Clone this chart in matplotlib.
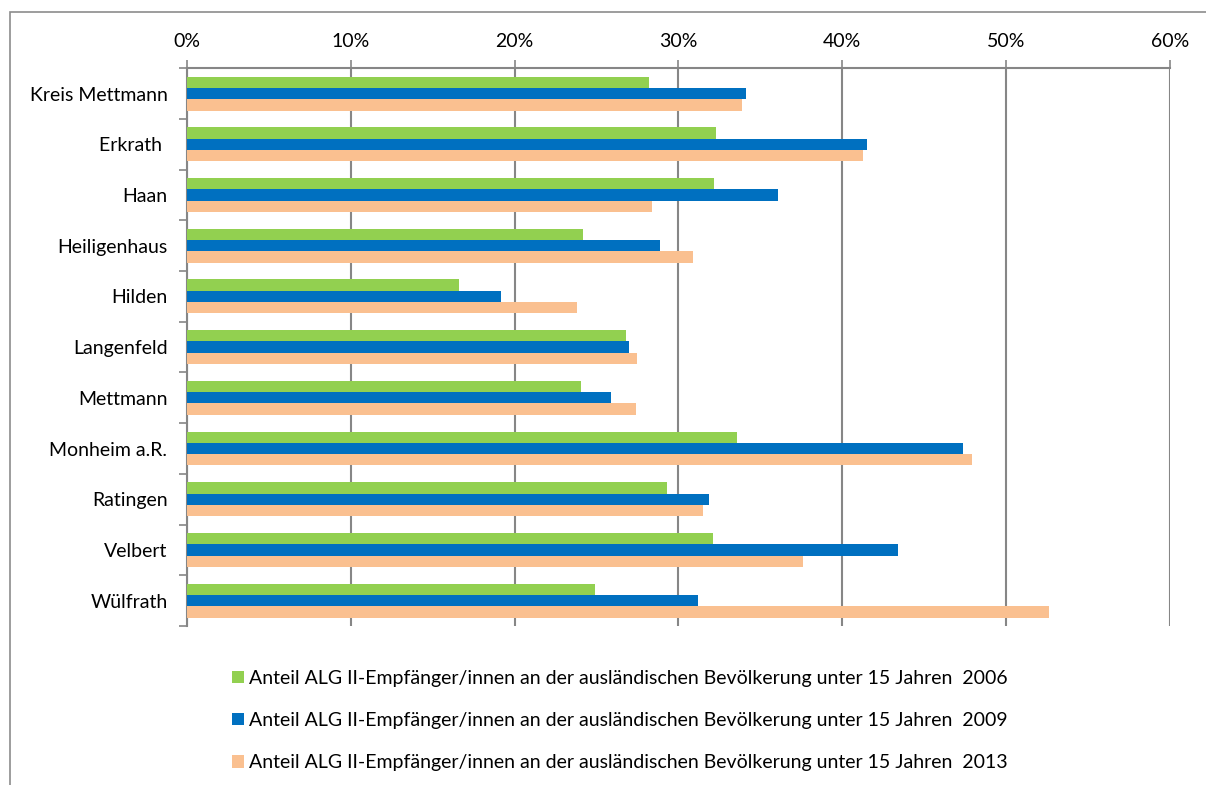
#!/usr/bin/env python

import numpy as np
import matplotlib.pyplot as plt
from matplotlib.patches import Rectangle
from matplotlib.ticker import FuncFormatter

plt.rcParams['font.family'] = ['Lato', 'DejaVu Sans']
plt.rcParams['font.size'] = 14

# data (percent)
towns = ['Kreis Mettmann', 'Erkrath ', 'Haan', 'Heiligenhaus', 'Hilden', 'Langenfeld',
         'Mettmann', 'Monheim a.R.', 'Ratingen', 'Velbert', 'Wülfrath']
share_2006 = [28.2, 32.3, 32.2, 24.15, 16.6, 26.8, 24.05, 33.55, 29.3, 32.1, 24.9]
share_2009 = [34.1, 41.5, 36.1, 28.85, 19.2, 27.0, 25.9, 47.4, 31.9, 43.4, 31.2]
share_2013 = [33.9, 41.3, 28.4, 30.9, 23.8, 27.5, 27.4, 47.9, 31.5, 37.6, 52.6]

label_base = 'Anteil ALG II-Empfänger/innen an der ausländischen Bevölkerung unter 15 Jahren  '
years = ['2006', '2009', '2013']
colors = ['#92D050', '#0070C0', '#FAC090']

fig = plt.figure(figsize=(12.06, 7.85), dpi=100)
ax = fig.add_axes([0.155, 0.2026, 0.815, 0.7104])

# outer frame of the chart area
fig.patches.append(Rectangle((10 / 1206, -0.01), 1.2, 1 - 12 / 785 + 0.01, transform=fig.transFigure,
                             fill=False, edgecolor='#8c8c8c', linewidth=1.2))

y = np.arange(len(towns))
h = 0.223
for off, vals, col, yr in zip([-h, 0, h], [share_2006, share_2009, share_2013], colors, years):
    ax.barh(y + off, vals, height=h, color=col, label=label_base + yr, zorder=3)

ax.set_xlim(0, 60)
ax.set_ylim(len(towns) - 0.5, -0.5)

ax.xaxis.tick_top()
ax.set_xticks(np.arange(0, 61, 10))
ax.xaxis.set_major_formatter(FuncFormatter(lambda v, p: f'{int(v)}%'))
ax.tick_params(axis='x', length=6, width=1.2, color='#868686', pad=7)
ax.grid(axis='x', color='#868686', linewidth=1.5, zorder=0)

ax.set_yticks(y)
ax.set_yticklabels(towns)
ax.set_yticks(np.arange(-0.5, len(towns), 1), minor=True)
ax.tick_params(axis='y', which='major', length=0, pad=14)
ax.tick_params(axis='y', which='minor', length=6, width=1.2, color='#868686')

for side in ['right', 'bottom']:
    ax.spines[side].set_visible(False)
for side in ['top', 'left']:
    ax.spines[side].set_color('#868686')
    ax.spines[side].set_linewidth(1.5)

ax.legend(loc='upper center', bbox_to_anchor=(0.514, 0.169), bbox_transform=fig.transFigure,
          frameon=False, handlelength=0.6, handleheight=0.6, handletextpad=0.25,
          labelspacing=1.3, fontsize=14)

plt.savefig('out.png', dpi=100)
plt.close()
